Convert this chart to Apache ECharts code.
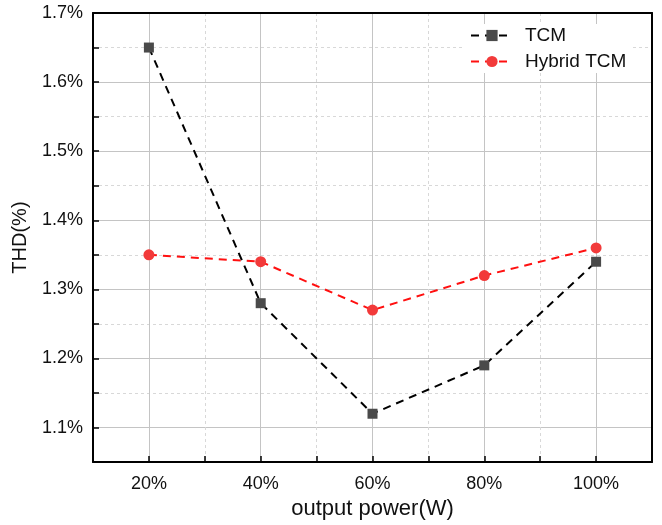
<!DOCTYPE html>
<html>
<head>
<meta charset="utf-8">
<script src="https://cdn.jsdelivr.net/npm/echarts@6/dist/echarts.min.js"></script>
<style>
html,body{margin:0;padding:0;background:#fff;}
#chart{width:662px;height:525px;}
</style>
</head>
<body>
<div id="chart"></div>
<script>
const powerLevels = [20, 40, 60, 80, 100];
const tcmValues = [1.65, 1.28, 1.12, 1.19, 1.34];
const hybridValues = [1.35, 1.34, 1.27, 1.32, 1.36];
const seriesNames = ['TCM', 'Hybrid TCM'];

const FONT = '"Liberation Sans", Arial, sans-serif';
const chart = echarts.init(document.getElementById('chart'));
const pairs = (vals) => powerLevels.map((p, i) => [p, vals[i]]);

const solidGrid = '#c4c4c4';
const dashGrid = '#d8d8d8';

chart.setOption({
  animation: false,
  backgroundColor: '#fff',
  grid: { left: 93, right: 10, top: 13, bottom: 62 },
  legend: {
    left: 464, top: 24,
    orient: 'vertical',
    itemWidth: 42, itemHeight: 14, itemGap: 7,
    backgroundColor: '#fff',
    padding: [2, 6, 2, 6],
    textStyle: { fontFamily: FONT, fontSize: 19, color: '#111', padding: [0, 0, 0, 7] },
    data: seriesNames
  },
  xAxis: [
    {
      type: 'value', min: 10, max: 110, interval: 10,
      name: 'output power(W)', nameLocation: 'middle', nameGap: 34,
      nameTextStyle: { fontFamily: FONT, fontSize: 22, color: '#111' },
      axisLine: { show: true, onZero: false, lineStyle: { color: '#000', width: 2 } },
      axisTick: { show: true, inside: true, length: 6, lineStyle: { color: '#000', width: 1.5 } },
      axisLabel: {
        fontFamily: FONT, fontSize: 18, color: '#111', margin: 13,
        formatter: v => (v % 20 === 0 && v >= 20 && v <= 100) ? v + '%' : ''
      },
      splitLine: { show: true, lineStyle: { color: ['rgba(0,0,0,0)', solidGrid], width: 1 } }
    },
    {
      type: 'value', min: 10, max: 110, interval: 10, position: 'top',
      axisLine: { show: true, onZero: false, lineStyle: { color: '#000', width: 2 } },
      axisTick: { show: false }, axisLabel: { show: false },
      splitLine: { show: true, lineStyle: { color: [dashGrid, 'rgba(0,0,0,0)'], type: [3, 3], width: 1 } }
    }
  ],
  yAxis: [
    {
      type: 'value', min: 1.05, max: 1.7, interval: 0.05,
      name: 'THD(%)', nameLocation: 'middle', nameGap: 63,
      nameTextStyle: { fontFamily: FONT, fontSize: 20, color: '#111' },
      axisLine: { show: true, onZero: false, lineStyle: { color: '#000', width: 2 } },
      axisTick: { show: true, inside: true, length: 6, lineStyle: { color: '#000', width: 1.5 } },
      axisLabel: {
        fontFamily: FONT, fontSize: 18, color: '#111', margin: 10,
        formatter: v => {
          const t = Math.round(v * 100);
          return (t % 10 === 0) ? (t / 100).toFixed(1) + '%' : '';
        }
      },
      splitLine: { show: true, lineStyle: { color: ['rgba(0,0,0,0)', solidGrid], width: 1 } }
    },
    {
      type: 'value', min: 1.05, max: 1.7, interval: 0.05, position: 'right',
      axisLine: { show: true, onZero: false, lineStyle: { color: '#000', width: 2 } },
      axisTick: { show: false }, axisLabel: { show: false },
      splitLine: { show: true, lineStyle: { color: [dashGrid, 'rgba(0,0,0,0)'], type: [3, 3], width: 1 } }
    }
  ],
  series: [
    {
      name: seriesNames[0], type: 'line', xAxisIndex: 0, yAxisIndex: 0,
      data: pairs(tcmValues),
      symbol: 'rect', symbolSize: 10,
      itemStyle: { color: '#4a4a4a' },
      lineStyle: { color: '#000', width: 2, type: [8, 6] },
      z: 3
    },
    {
      name: seriesNames[1], type: 'line', xAxisIndex: 0, yAxisIndex: 0,
      data: pairs(hybridValues),
      symbol: 'circle', symbolSize: 11,
      itemStyle: { color: '#f23a3a' },
      lineStyle: { color: '#ff1010', width: 2, type: [8, 6] },
      z: 2
    }
  ]
});
</script>
</body>
</html>
